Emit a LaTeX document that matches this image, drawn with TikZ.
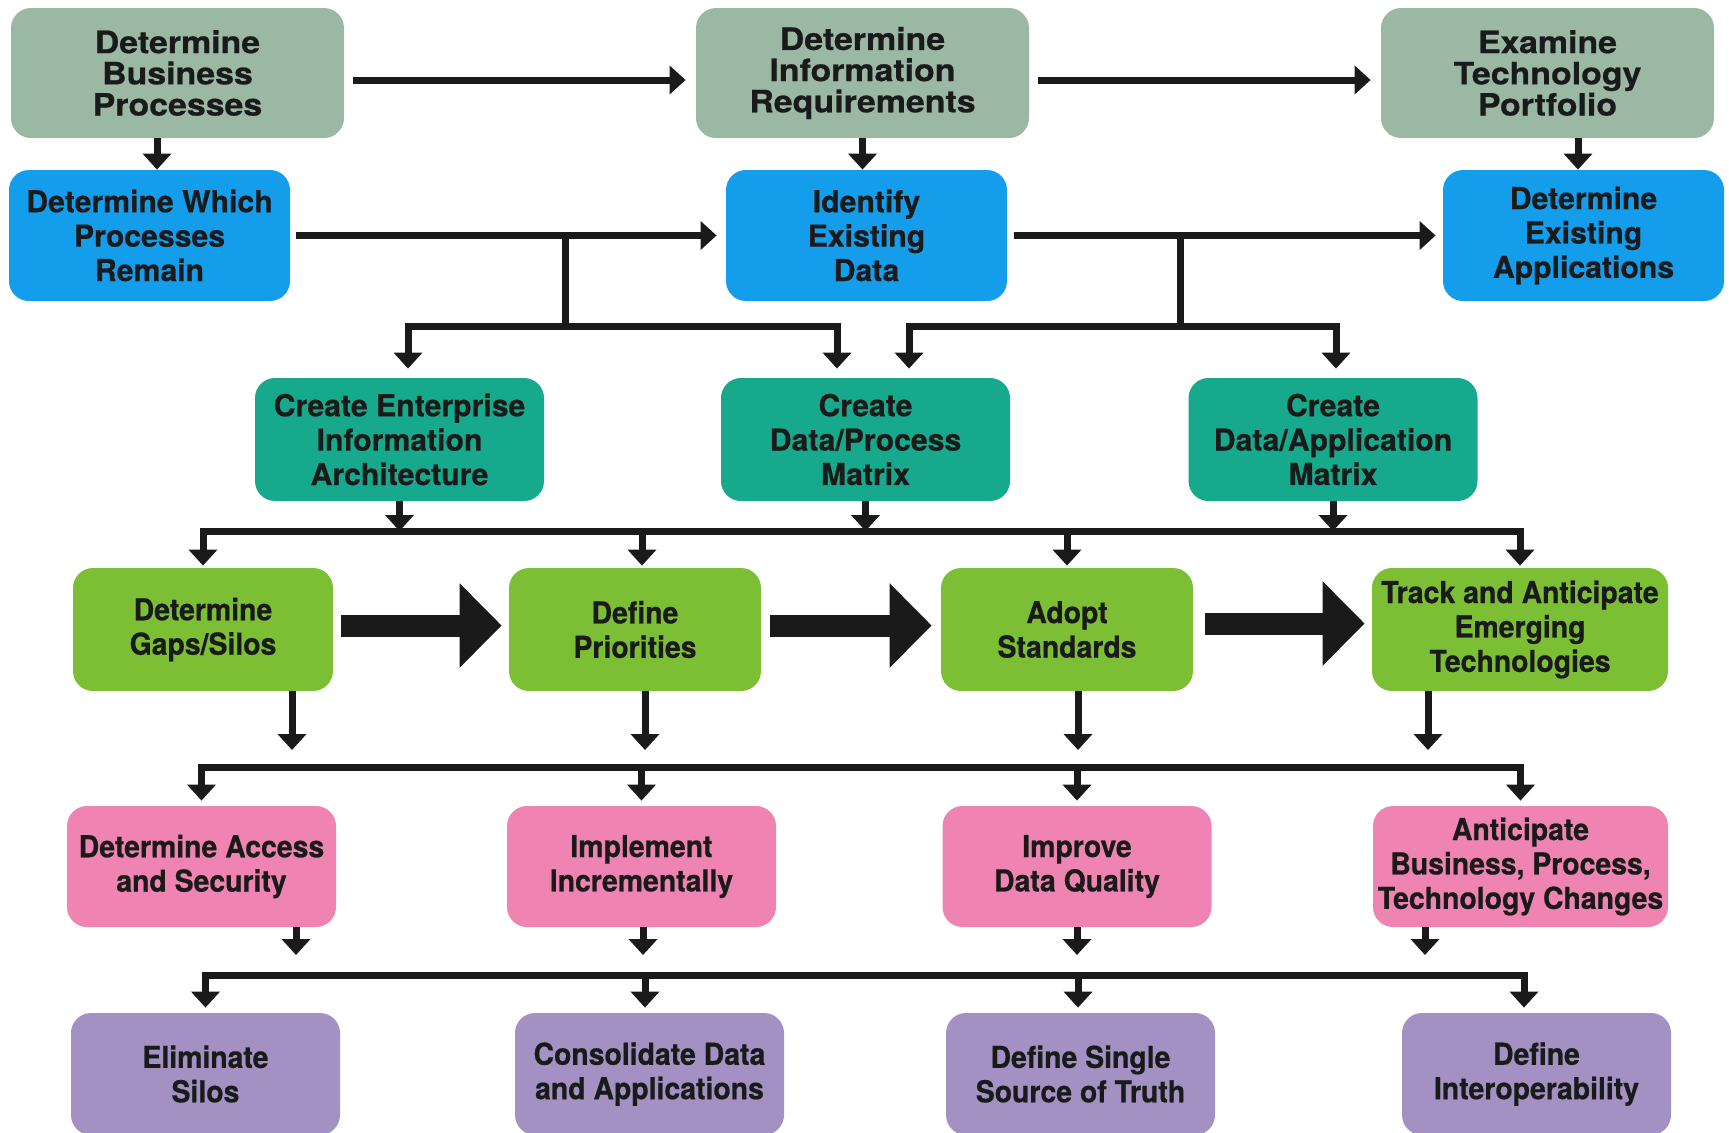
\documentclass[tikz,border=0pt]{standalone}
\usepackage{fontspec}
\usetikzlibrary{arrows.meta}
\newfontfamily\headfont{TeX Gyre Heros}[FakeStretch=1.1, BoldFeatures={FakeBold=0.6}]
\newfontfamily\boxfont{TeX Gyre Heros}[BoldFeatures={FakeBold=0.6}]
\newfontfamily\narrowfont{TeX Gyre Heros}[FakeStretch=0.94, BoldFeatures={FakeBold=0.6}]
\definecolor{ink}{HTML}{1A1A1A}
\definecolor{sage}{HTML}{9BB8A5}
\definecolor{sky}{HTML}{139DEA}
\definecolor{teal}{HTML}{17A98C}
\definecolor{leaf}{HTML}{7CBE34}
\definecolor{rose}{HTML}{EF84B3}
\definecolor{lilac}{HTML}{A391C4}
\tikzset{
  stage/.style={rounded corners=10pt, align=center, inner sep=0pt, text=ink},
  planbox/.style={stage, fill=sage, minimum width=166.5pt, minimum height=65pt,
    font=\headfont\bfseries\fontsize{15.4}{15.6}\selectfont},
  findbox/.style={stage, fill=sky, minimum width=140.5pt, minimum height=65.5pt,
    font=\boxfont\bfseries\fontsize{15.1}{17.2}\selectfont},
  matrixbox/.style={stage, fill=teal, minimum width=144.5pt, minimum height=61.5pt,
    font=\boxfont\bfseries\fontsize{15.1}{17.2}\selectfont},
  gapbox/.style={stage, fill=leaf, minimum height=61.5pt,
    font=\narrowfont\bfseries\fontsize{15.1}{17.2}\selectfont},
  rulebox/.style={stage, fill=rose, minimum height=60.5pt,
    font=\narrowfont\bfseries\fontsize{15.1}{17.2}\selectfont},
  goalbox/.style={stage, fill=lilac, minimum width=134.5pt, minimum height=61pt,
    font=\narrowfont\bfseries\fontsize{15.1}{17.2}\selectfont},
  wire/.style={draw=ink, line width=3.5pt},
  link/.style={wire, -{Triangle[width=14pt,length=8pt]}},
  bothlink/.style={wire, {Triangle[width=14pt,length=8pt]}-{Triangle[width=14pt,length=8pt]}},
  bigarrow/.style={draw=ink, line width=11pt, -{Triangle[width=41pt,length=21pt]}}
}
\begin{document}
\begin{tikzpicture}[x=0.5pt,y=-0.5pt]
\clip (0,0) rectangle (1729,1132);
% planning row
\node[planbox] (bp) at (177.5,73) {Determine\\Business\\Processes};
\node[planbox] (ir) at (862.5,73) {Determine\\Information\\Requirements};
\node[planbox] (tp) at (1547.5,73) {Examine\\Technology\\Portfolio};
% findings row
\node[findbox] (wp) at (149.5,235.5) {Determine Which\\Processes\\Remain};
\node[findbox] (ed) at (866.5,235.5) {Identify\\Existing\\Data};
\node[findbox] (ea) at (1583.5,235.5) {Determine\\Existing\\Applications};
% matrices
\node[matrixbox] (eia) at (399.5,439.5) {Create Enterprise\\Information\\Architecture};
\node[matrixbox] (dpm) at (865.5,439.5) {Create\\Data/Process\\Matrix};
\node[matrixbox] (dam) at (1333,439.5) {Create\\Data/Application\\Matrix};
% gaps row
\node[gapbox, minimum width=130pt] (gaps) at (203,629.5) {Determine\\Gaps/Silos};
\node[gapbox, minimum width=126pt] (prio) at (635,629.5) {Define\\Priorities};
\node[gapbox, minimum width=126pt] (std) at (1067,629.5) {Adopt\\Standards};
\node[gapbox, minimum width=148pt] (track) at (1520,629.5) {Track and Anticipate\\Emerging\\Technologies};
% rules row
\node[rulebox, minimum width=134.5pt] (acc) at (201.5,866.5) {Determine Access\\and Security};
\node[rulebox, minimum width=134.5pt] (incr) at (641.5,866.5) {Implement\\Incrementally};
\node[rulebox, minimum width=134.5pt] (qual) at (1077,866.5) {Improve\\Data Quality};
\node[rulebox, minimum width=147.5pt] (antic) at (1520.5,866.5) {Anticipate\\Business, Process,\\Technology Changes};
% goals row
\node[goalbox] (silo) at (205.5,1074) {Eliminate\\Silos};
\node[goalbox] (cons) at (649.5,1074) {Consolidate Data\\and Applications};
\node[goalbox] (truth) at (1080.5,1074) {Define Single\\Source of Truth};
\node[goalbox] (interop) at (1536.5,1074) {Define\\Interoperability};

% top connectors
\draw[link] ([shift={(9,7)}]bp.east) -- ([shift={(-10,7)}]ir.west);
\draw[link] ([shift={(9,7)}]ir.east) -- ([shift={(-10,7)}]tp.west);
\draw[link] ([xshift=-10.25pt]bp.south) -- ([xshift=-10.25pt]bp.south |- wp.north);
\draw[link] (ir.south) -- (ir.south |- ed.north);
\draw[link] ([xshift=15.25pt]tp.south) -- ([xshift=15.25pt]tp.south |- ea.north);
\draw[link] ([xshift=3pt]wp.east) -- ([xshift=-4.5pt]ed.west);
\draw[link] ([xshift=3.5pt]ed.east) -- ([xshift=-3.5pt]ea.west);

% forks down to the matrices
\coordinate (fork1) at (565,326);
\coordinate (fork2) at (1180,326);
\draw[wire] (fork1 |- wp.east) -- (fork1);
\draw[bothlink] ([xshift=4.25pt,yshift=4.5pt]eia.north) |- (fork1) -| ([xshift=-14.25pt,yshift=4.5pt]dpm.north);
\draw[wire] (fork2 |- ed.east) -- (fork2);
\draw[bothlink] ([xshift=21.75pt,yshift=4.5pt]dpm.north) |- (fork2) -| ([xshift=1.5pt,yshift=4.5pt]dam.north);

% bus under the matrices
\coordinate (bus3) at (0,531);
\foreach \n in {eia,dpm,dam} \draw[link] (\n.south) -- (\n.south |- bus3);
\draw[bothlink] ([yshift=1pt]gaps.north) -- (gaps.north |- bus3) -- (track.north |- bus3) -- ([yshift=1pt]track.north);
\draw[link] ([xshift=3.5pt]prio.north |- bus3) -- ([xshift=3.5pt,yshift=1pt]prio.north);
\draw[link] (std.north |- bus3) -- ([yshift=1pt]std.north);

% big arrows
\draw[bigarrow] ([xshift=4pt,yshift=2pt]gaps.east) -- ([xshift=-3.5pt,yshift=2pt]prio.west);
\draw[bigarrow] ([xshift=4.5pt,yshift=2pt]prio.east) -- ([xshift=-4.5pt,yshift=2pt]std.west);
\draw[bigarrow] ([xshift=6pt,yshift=3pt]std.east) -- ([xshift=-3.5pt,yshift=3pt]track.west);

% stubs and bus under the gaps row
\coordinate (stub4) at (0,750);
\draw[link] ([xshift=44.5pt]gaps.south) -- ([xshift=44.5pt]gaps.south |- stub4);
\draw[link] ([xshift=5pt]prio.south) -- ([xshift=5pt]prio.south |- stub4);
\draw[link] ([xshift=5.5pt]std.south) -- ([xshift=5.5pt]std.south |- stub4);
\draw[link] ([xshift=-46pt]track.south) -- ([xshift=-46pt]track.south |- stub4);
\coordinate (bus4) at (0,767);
\draw[bothlink] ([yshift=2.5pt]acc.north) -- (acc.north |- bus4) -- (antic.north |- bus4) -- ([yshift=2.5pt]antic.north);
\draw[link] (incr.north |- bus4) -- ([yshift=2.5pt]incr.north);
\draw[link] (qual.north |- bus4) -- ([yshift=2.5pt]qual.north);

% stubs and bus under the rules row
\coordinate (stub5) at (0,955);
\draw[link] ([xshift=47.25pt]acc.south) -- ([xshift=47.25pt]acc.south |- stub5);
\draw[link] ([xshift=0.75pt]incr.south) -- ([xshift=0.75pt]incr.south |- stub5);
\draw[link] (qual.south) -- (qual.south |- stub5);
\draw[link] ([xshift=-47.75pt]antic.south) -- ([xshift=-47.75pt]antic.south |- stub5);
\coordinate (bus5) at (0,975);
\draw[bothlink] ([yshift=2.5pt]silo.north) -- (silo.north |- bus5) -- ([xshift=-6.25pt]interop.north |- bus5) -- ([xshift=-6.25pt,yshift=2.5pt]interop.north);
\draw[link] ([xshift=-2.25pt]cons.north |- bus5) -- ([xshift=-2.25pt,yshift=2.5pt]cons.north);
\draw[link] ([xshift=-1.25pt]truth.north |- bus5) -- ([xshift=-1.25pt,yshift=2.5pt]truth.north);
\end{tikzpicture}
\end{document}
